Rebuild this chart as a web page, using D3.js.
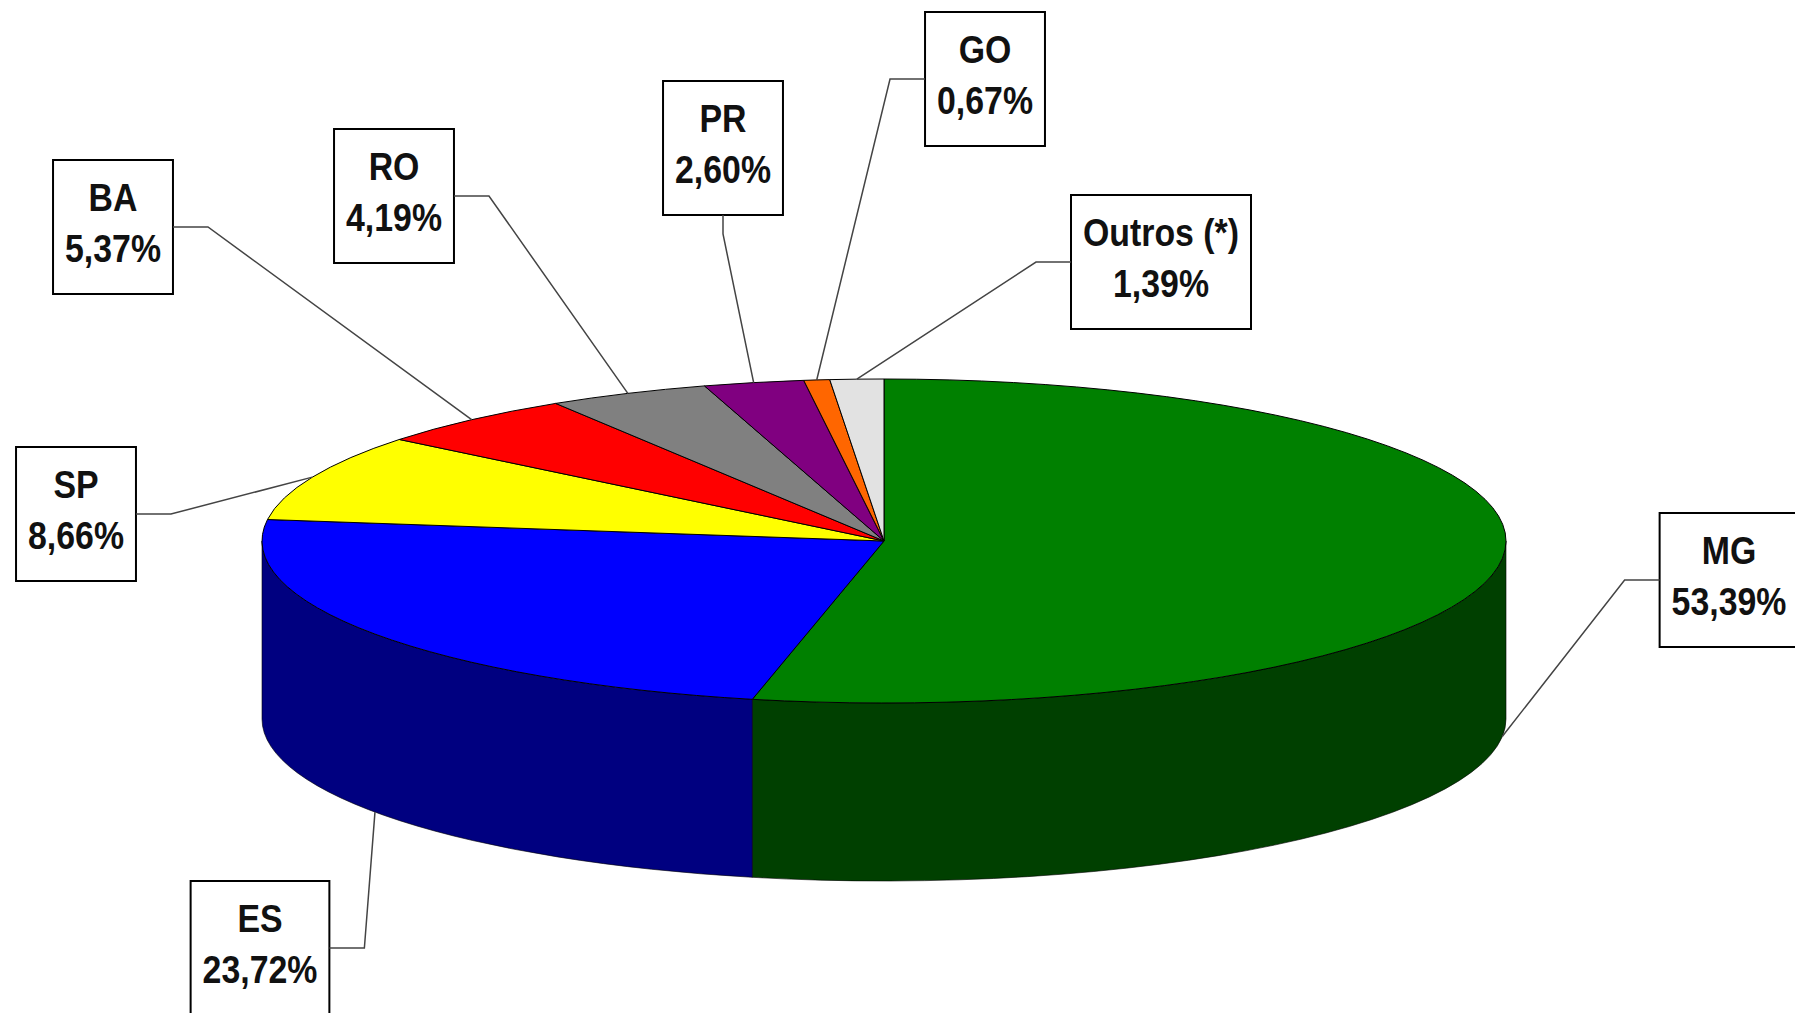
<!DOCTYPE html>
<html>
<head>
<meta charset="utf-8">
<script src="https://cdn.jsdelivr.net/npm/d3@7"></script>
<style>
  body { margin: 0; background: #fff; }
  text { font-family: "Liberation Sans", Arial, sans-serif; font-weight: bold; }
</style>
</head>
<body>
<div id="chart"></div>
<script>
// share of each state (%), clockwise from 12 o'clock
var states = ["MG", "ES", "SP", "BA", "RO", "PR", "GO", "Outros (*)"];
var shares = [53.39, 23.72, 8.66, 5.37, 4.19, 2.60, 0.67, 1.39];
var topColors = ["#008000", "#0000ff", "#ffff00", "#ff0000", "#808080", "#800080", "#ff6600", "#e2e2e2"];
var sideColors = ["#004000", "#000080", "#808000", "#800000", "#404040", "#400040", "#803300", "#a0a0a0"];

// label box centres and the edge the leader line joins
var labelBoxes = [
  {x: 1729, y: 580, side: "left"},
  {x: 260, y: 948, side: "right"},
  {x: 76, y: 514, side: "right"},
  {x: 113, y: 227, side: "right"},
  {x: 394, y: 196, side: "right"},
  {x: 723, y: 148, side: "bottom"},
  {x: 985, y: 79, side: "left"},
  {x: 1161, y: 262, side: "left"}
];

var width = 1795, height = 1013;
var cx = 884, cy = 541, rx = 622, ry = 162, depth = 178;
var k = ry / rx;

var fmt = d3.formatLocale({decimal: ",", thousands: ".", grouping: [3], currency: ["", ""]}).format(".2f");

var svg = d3.select("#chart")
    .append("svg")
    .attr("width", width)
    .attr("height", height);

var pie = d3.pie().sort(null).value(function(d) { return d; });
var slices = pie(shares);

var arc = d3.arc().innerRadius(0).outerRadius(rx);

// point on the top rim for an angle measured clockwise from 12 o'clock
function rim(a) {
  return [cx + rx * Math.sin(a), cy - ry * Math.cos(a)];
}

// the pie is drawn as a circle, squashed into an ellipse
var squash = "translate(" + cx + "," + cy + ") scale(1," + k + ")";

// side walls, only the front half shows
var sides = svg.append("g").attr("transform", squash);
var dd = depth / k;
slices.forEach(function(d, i) {
  var a0 = Math.max(d.startAngle, Math.PI / 2),
      a1 = Math.min(d.endAngle, 3 * Math.PI / 2);
  if (a1 <= a0) return;
  var m0 = a0 - Math.PI / 2, m1 = a1 - Math.PI / 2;
  var p = d3.path();
  p.moveTo(rx * Math.cos(m0), rx * Math.sin(m0));
  p.arc(0, 0, rx, m0, m1);
  p.lineTo(rx * Math.cos(m1), rx * Math.sin(m1) + dd);
  p.arc(0, dd, rx, m1, m0, true);
  p.closePath();
  sides.append("path")
      .attr("d", p.toString())
      .attr("fill", sideColors[i])
      .attr("stroke", "#000")
      .attr("stroke-width", 0.6)
      .attr("vector-effect", "non-scaling-stroke");
});

// top face
svg.append("g")
    .attr("transform", squash)
    .selectAll("path")
    .data(slices)
    .enter().append("path")
    .attr("d", arc)
    .attr("fill", function(d, i) { return topColors[i]; })
    .attr("stroke", "#000")
    .attr("stroke-width", 1)
    .attr("vector-effect", "non-scaling-stroke");

// labels with leader lines
var boxH = 134;
slices.forEach(function(d, i) {
  var b = labelBoxes[i];
  var g = svg.append("g");

  // text is a little narrow and tall in the original
  var t1 = g.append("text")
      .attr("transform", "translate(" + b.x + "," + (b.y - 16) + ") scale(0.94,1.08)")
      .attr("text-anchor", "middle")
      .attr("font-size", 36)
      .attr("fill", "#111")
      .text(states[i]);
  var t2 = g.append("text")
      .attr("transform", "translate(" + b.x + "," + (b.y + 35) + ") scale(0.94,1.08)")
      .attr("text-anchor", "middle")
      .attr("font-size", 36)
      .attr("fill", "#111")
      .text(fmt(shares[i]) + "%");

  var w = Math.max(t1.node().getComputedTextLength(), t2.node().getComputedTextLength()) * 0.94 + 24;

  g.insert("rect", "text")
      .attr("x", b.x - w / 2).attr("y", b.y - boxH / 2)
      .attr("width", w).attr("height", boxH)
      .attr("fill", "#fff")
      .attr("stroke", "#000")
      .attr("stroke-width", 2);

  var mid = (d.startAngle + d.endAngle) / 2;
  var anchor = rim(mid);
  if (Math.cos(mid) < 0) anchor[1] += depth;

  var end, elbow;
  if (b.side === "left") {
    end = [b.x - w / 2, b.y]; elbow = [end[0] - 35, b.y];
  } else if (b.side === "right") {
    end = [b.x + w / 2, b.y]; elbow = [end[0] + 35, b.y];
  } else {
    end = [b.x, b.y + boxH / 2]; elbow = [b.x, end[1] + 19];
  }

  svg.append("path")
      .attr("d", d3.line()([anchor, elbow, end]))
      .attr("fill", "none")
      .attr("stroke", "#444")
      .attr("stroke-width", 1.5);
});
</script>
</body>
</html>
